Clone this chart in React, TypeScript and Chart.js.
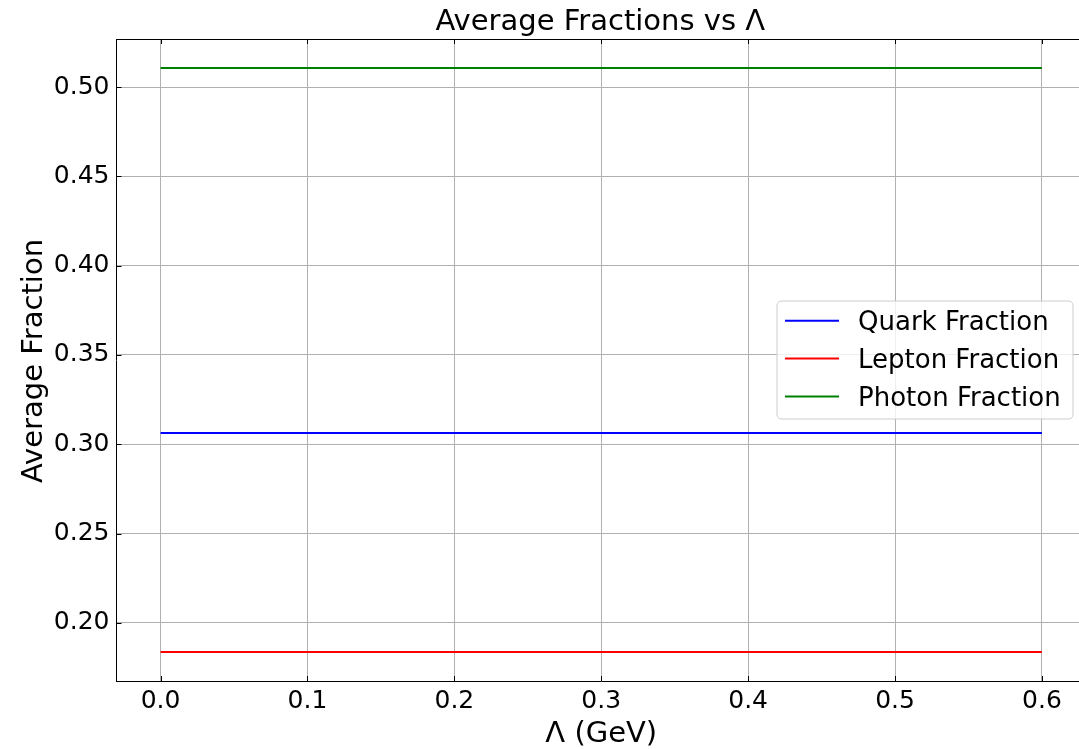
import React, { useEffect, useRef } from "react";
import { Chart, registerables } from "chart.js";

Chart.register(...registerables);

const lambdaValues = [0.0, 0.1, 0.2, 0.3, 0.4, 0.5, 0.6];
const quarkFraction = [0.3064, 0.3064, 0.3064, 0.3064, 0.3064, 0.3064, 0.3064];
const leptonFraction = [0.1838, 0.1838, 0.1838, 0.1838, 0.1838, 0.1838, 0.1838];
const photonFraction = [0.5106, 0.5106, 0.5106, 0.5106, 0.5106, 0.5106, 0.5106];
const xTickValues = [0.0, 0.1, 0.2, 0.3, 0.4, 0.5, 0.6];
const yTickValues = [0.2, 0.25, 0.3, 0.35, 0.4, 0.45, 0.5];
const seriesNames = ["Quark Fraction", "Lepton Fraction", "Photon Fraction"];
const seriesColors = ["#0000ff", "#ff0000", "#008000"];

const FONT = "'DejaVu Sans', 'Liberation Sans', sans-serif";

const decorPlugin = {
  id: "mplDecor",
  afterDraw(chart: any) {
    const ctx = chart.ctx;
    const area = chart.chartArea;
    const xs = chart.scales.x;
    const ys = chart.scales.y;
    ctx.save();
    // top spine
    ctx.strokeStyle = "#000";
    ctx.lineWidth = 1;
    ctx.beginPath();
    const topY = Math.round(area.top) + 0.5;
    ctx.moveTo(area.left, topY);
    ctx.lineTo(area.right, topY);
    ctx.stroke();
    // inward ticks
    ctx.beginPath();
    xs.ticks.forEach((t: any) => {
      const px = Math.round(xs.getPixelForValue(t.value)) + 0.5;
      ctx.moveTo(px, area.bottom);
      ctx.lineTo(px, area.bottom - 5);
      ctx.moveTo(px, area.top);
      ctx.lineTo(px, area.top + 5);
    });
    ys.ticks.forEach((t: any) => {
      const py = Math.round(ys.getPixelForValue(t.value)) + 0.5;
      ctx.moveTo(area.left, py);
      ctx.lineTo(area.left + 5, py);
    });
    ctx.stroke();

    // title and axis titles
    ctx.fillStyle = "#000";
    ctx.textAlign = "center";
    ctx.textBaseline = "alphabetic";
    const cx = (area.left + area.right) / 2;
    ctx.font = `29px ${FONT}`;
    ctx.fillText("Average Fractions vs Λ", cx - 1, 30);
    ctx.fillText("Λ (GeV)", cx, 741.5);
    ctx.save();
    ctx.translate(41.5, (area.top + area.bottom) / 2 + 1);
    ctx.rotate(-Math.PI / 2);
    ctx.fillText("Average Fraction", 0, 0);
    ctx.restore();

    // legend
    const lx = 777, ly = 301, lw = 296, lh = 118, r = 5;
    ctx.beginPath();
    ctx.moveTo(lx + r, ly);
    ctx.lineTo(lx + lw - r, ly);
    ctx.quadraticCurveTo(lx + lw, ly, lx + lw, ly + r);
    ctx.lineTo(lx + lw, ly + lh - r);
    ctx.quadraticCurveTo(lx + lw, ly + lh, lx + lw - r, ly + lh);
    ctx.lineTo(lx + r, ly + lh);
    ctx.quadraticCurveTo(lx, ly + lh, lx, ly + lh - r);
    ctx.lineTo(lx, ly + r);
    ctx.quadraticCurveTo(lx, ly, lx + r, ly);
    ctx.closePath();
    ctx.fillStyle = "rgba(255,255,255,0.8)";
    ctx.fill();
    ctx.strokeStyle = "#cccccc";
    ctx.lineWidth = 1;
    ctx.stroke();
    ctx.font = `26px ${FONT}`;
    ctx.textAlign = "left";
    chart.data.datasets.forEach((ds: any, i: number) => {
      const rowY = 320.7 + i * 37.9;
      ctx.strokeStyle = ds.borderColor;
      ctx.lineWidth = 2;
      ctx.beginPath();
      ctx.moveTo(785, rowY);
      ctx.lineTo(839, rowY);
      ctx.stroke();
      ctx.fillStyle = "#000";
      ctx.fillText(ds.label, 858, rowY + 9);
    });
    ctx.restore();
  },
};

export default function App() {
  const ref = useRef<HTMLCanvasElement>(null);
  useEffect(() => {
    const canvas = ref.current!;
    const series = [quarkFraction, leptonFraction, photonFraction];
    const chart = new Chart(canvas, {
      type: "line",
      data: {
        datasets: series.map((vals, i) => ({
          label: seriesNames[i],
          data: lambdaValues.map((x, j) => ({ x, y: vals[j] })),
          borderColor: seriesColors[i],
          backgroundColor: seriesColors[i],
          borderWidth: 2,
          pointRadius: 0,
          tension: 0,
          fill: false,
        })),
      },
      options: {
        animation: false,
        responsive: false,
        devicePixelRatio: 1,
        layout: { padding: { top: 39, left: 0, right: 14, bottom: 0 } },
        plugins: {
          legend: { display: false },
          title: { display: false },
          tooltip: { enabled: false },
        },
        scales: {
          x: {
            type: "linear",
            min: -0.03,
            max: 0.63,
            afterBuildTicks: (s: any) => {
              s.ticks = xTickValues.map((v) => ({ value: v }));
            },
            afterFit: (s: any) => {
              s.height = 68;
            },
            ticks: {
              callback: (v: any) => Number(v).toFixed(1),
              font: { family: FONT, size: 25 },
              color: "#000",
              padding: 5,
              maxRotation: 0,
              autoSkip: false,
            },
            grid: { color: "#b0b0b0", lineWidth: 1, drawTicks: false },
            border: { color: "#000", width: 1 },
          },
          y: {
            type: "linear",
            min: 0.1675,
            max: 0.5269,
            afterBuildTicks: (s: any) => {
              s.ticks = yTickValues.map((v) => ({ value: v }));
            },
            afterFit: (s: any) => {
              s.width = 116.5;
            },
            ticks: {
              callback: (v: any) => Number(v).toFixed(2),
              font: { family: FONT, size: 25 },
              color: "#000",
              padding: 7,
              autoSkip: false,
            },
            grid: { color: "#b0b0b0", lineWidth: 1, drawTicks: false },
            border: { color: "#000", width: 1 },
          },
        },
      },
      plugins: [decorPlugin],
    });
    return () => chart.destroy();
  }, []);
  return (
    <div style={{ position: "fixed", left: 0, top: 0, width: 1079, height: 749, overflow: "hidden", background: "#fff" }}>
      <canvas ref={ref} width={1100} height={749} style={{ display: "block", width: 1100, height: 749 }} />
    </div>
  );
}
